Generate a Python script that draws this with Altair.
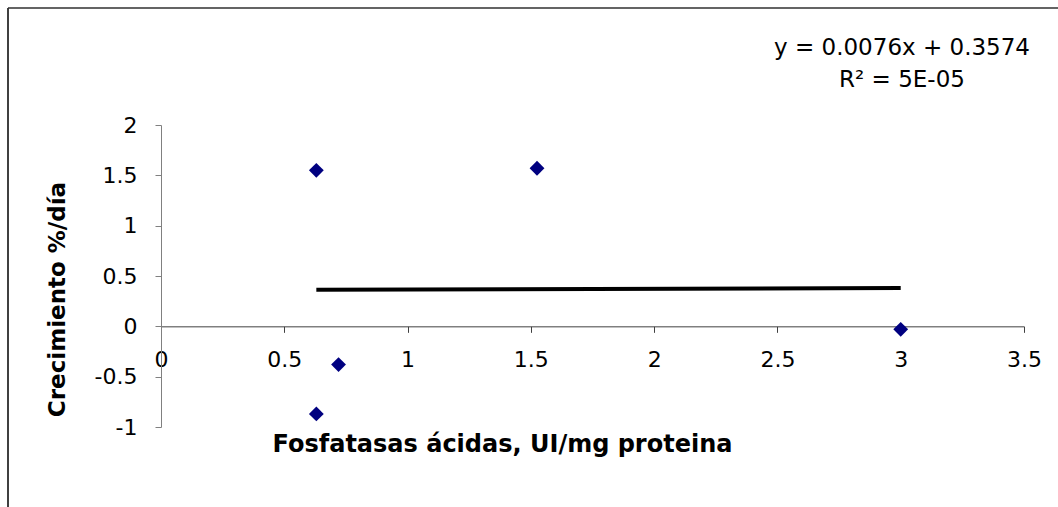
import altair as alt
import pandas as pd

# Data
fosfatasas = [0.63, 1.525, 0.63, 0.72, 3.0]
crecimiento = [1.55, 1.57, -0.87, -0.38, -0.03]

slope = 0.0076
intercept = 0.3574
eq_text = ["y = 0.0076x + 0.3574"]
r2_text = ["R\u00b2 = 5E-05"]

x_ticks = [0, 0.5, 1, 1.5, 2, 2.5, 3, 3.5]
y_ticks = [-1, -0.5, 0, 0.5, 1, 1.5, 2]

pts = pd.DataFrame({"x": fosfatasas, "y": crecimiento})
tx = [min(fosfatasas), max(fosfatasas)]
trend = pd.DataFrame({"x": tx, "y": [slope * v + intercept for v in tx]})
one = pd.DataFrame({"k": [0]})

FONT = "DejaVu Sans"
W, H = 863, 302

xscale = alt.Scale(domain=[0, 3.5], nice=False, zero=False)
yscale = alt.Scale(domain=[-1, 2], nice=False, zero=False)

xaxis = alt.Axis(
    values=x_ticks, labelExpr="toString(datum.value)", grid=False,
    offset=-(H / 3.0), tickSize=6, labelPadding=17, labelFont=FONT,
    labelFontSize=22, labelColor="black", domainColor="#404040",
    tickColor="#404040", title="Fosfatasas ácidas, UI/mg proteina",
    titleFont=FONT, titleFontSize=24, titleFontWeight="bold",
    titleColor="black", titleX=341, titleY=118, titleBaseline="middle",
    titleAlign="center", labelFlush=False, labelOverlap=False,
)
yaxis = alt.Axis(
    values=y_ticks, labelExpr="toString(datum.value)", grid=False,
    tickSize=6, labelPadding=18, labelFont=FONT, labelFontSize=22,
    labelColor="black", domainColor="#808080", tickColor="#808080",
    title="Crecimiento %/día", titleFont=FONT, titleFontSize=23,
    titleFontWeight="bold", titleColor="black", titleX=-104, titleY=174,
    titleAngle=270, titleBaseline="middle", titleAlign="center",
    labelFlush=False, labelOverlap=False,
)

trend_line = alt.Chart(trend).mark_line(color="black", strokeWidth=4).encode(
    x=alt.X("x:Q", scale=xscale, axis=xaxis),
    y=alt.Y("y:Q", scale=yscale, axis=yaxis),
)

points = alt.Chart(pts).mark_point(
    shape="diamond", filled=True, color="#000080", size=220, opacity=1
).encode(
    x=alt.X("x:Q", scale=xscale),
    y=alt.Y("y:Q", scale=yscale),
)

border_left = alt.Chart(one).mark_rule(color="black", strokeWidth=1.5).encode(
    x=alt.value(-153), y=alt.value(-117), y2=alt.value(400)
)
border_top = alt.Chart(one).mark_rule(color="#303030", strokeWidth=1.5).encode(
    x=alt.value(-153), x2=alt.value(920), y=alt.value(-117)
)

eq = alt.Chart(pd.DataFrame({"t": eq_text})).mark_text(
    font=FONT, fontSize=23, align="right", baseline="middle", color="black"
).encode(text="t:N", x=alt.value(869), y=alt.value(-77))

r2 = alt.Chart(pd.DataFrame({"t": r2_text})).mark_text(
    font=FONT, fontSize=23, align="center", baseline="middle", color="black"
).encode(text="t:N", x=alt.value(741), y=alt.value(-45))

chart = alt.layer(trend_line, points, border_left, border_top, eq, r2).properties(
    width=W, height=H,
    padding={"left": 161, "top": 125, "right": 34, "bottom": 80},
    autosize=alt.AutoSizeParams(type="none"),
    background="white",
).configure_view(strokeWidth=0)

chart.save("out.html", embed_options={"renderer": "svg", "actions": False})
